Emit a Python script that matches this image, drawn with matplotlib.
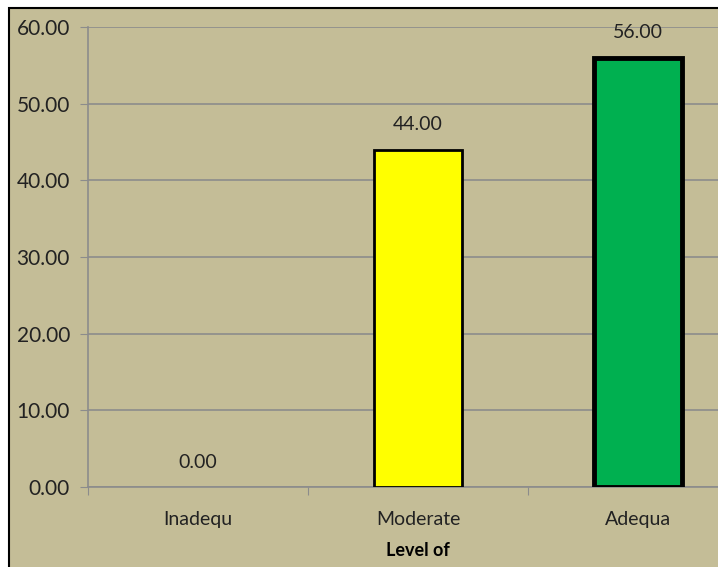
import matplotlib
matplotlib.use("Agg")
import matplotlib.pyplot as plt
from matplotlib.patches import Rectangle

categories = ["Inadequ", "Moderate", "Adequa"]
values = [0.0, 44.0, 56.0]
colors = ["#FFFF00", "#FFFF00", "#00B050"]
edge_widths = [2.0, 2.0, 3.5]
yticks = [0, 10, 20, 30, 40, 50, 60]

bg = "#C4BD97"
W, H = 718, 567

fig = plt.figure(figsize=(W / 100, H / 100), dpi=100, facecolor="white")
# chart area with its border, cut off at the right and bottom like the picture
fig.patches.append(Rectangle((9 / W, -0.05), 1.1, 1 - 8 / H + 0.05,
                             transform=fig.transFigure, facecolor=bg,
                             edgecolor="black", linewidth=1.5, zorder=-10))

ax = fig.add_axes([88 / W, 80 / H, 660 / W, 460 / H])
ax.set_zorder(1)
ax.patch.set_alpha(0)

x = list(range(len(categories)))
# a zero bar shows no outline in the picture
lws = [lw if v > 0 else 0 for lw, v in zip(edge_widths, values)]
ax.bar(x, values, width=0.4, color=colors, edgecolor="black",
       linewidth=lws, zorder=3)
for xi, v in zip(x, values):
    ax.annotate(f"{v:.2f}", (xi, v), xytext=(0, 18), textcoords="offset points",
                ha="center", va="center", fontsize=14, family="Lato", color="#222222")

ax.set_xlim(-0.5, 2.5)
ax.set_ylim(0, 60)
ax.set_yticks(yticks)
ax.set_yticklabels([f"{t:.2f}" for t in yticks], fontsize=15, family="Lato", color="#222222")
ax.yaxis.grid(True, color="#8C8C8C", linewidth=1.2, zorder=0)
ax.set_axisbelow(True)

ax.set_xticks([-0.5, 0.5, 1.5, 2.5])
ax.set_xticklabels([])
ax.set_xticks(x, minor=True)
ax.set_xticklabels(categories, minor=True, fontsize=14, family="Lato", color="#222222")
ax.tick_params(axis="x", which="minor", length=0, pad=17)
ax.tick_params(axis="x", which="major", length=6, color="#8C8C8C", direction="out")
ax.tick_params(axis="y", length=6, color="#8C8C8C", pad=7)
ax.set_xlabel("Level of", fontsize=13, fontweight="bold", family="Lato", labelpad=10)

for s in ["top", "right"]:
    ax.spines[s].set_visible(False)
ax.spines["left"].set_color("#8C8C8C")
ax.spines["bottom"].set_color("#8C8C8C")
ax.spines["left"].set_linewidth(1.2)
ax.spines["bottom"].set_linewidth(1.2)

fig.savefig("out.png", dpi=100, facecolor="white")
